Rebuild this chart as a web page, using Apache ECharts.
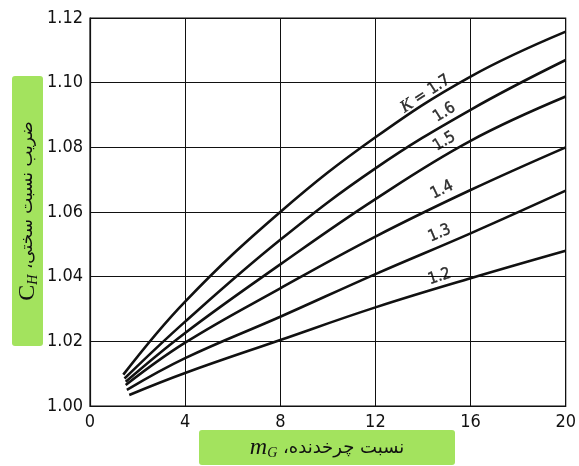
<!DOCTYPE html>
<html><head><meta charset="utf-8">
<script src="https://cdn.jsdelivr.net/npm/echarts@6/dist/echarts.min.js"></script>
<style>html,body{margin:0;padding:0;background:#fff}#c{width:579px;height:466px}</style>
</head><body><div id="c"></div>
<script>
// ---- data ----
const kValues = ['1.7', '1.6', '1.5', '1.4', '1.3', '1.2'];
const curveK17 = [[1.4, 1.0097], [4, 1.0323], [8, 1.0600], [12, 1.0831], [16, 1.1019], [20, 1.1158]];
const curveK16 = [[1.45, 1.0085], [4, 1.0261], [8, 1.0514], [12, 1.0735], [16, 1.0916], [20, 1.1070]];
const curveK15 = [[1.5, 1.0075], [4, 1.0226], [8, 1.0438], [12, 1.0640], [16, 1.0820], [20, 1.0957]];
const curveK14 = [[1.5, 1.0065], [4, 1.0196], [8, 1.0364], [12, 1.0524], [16, 1.0668], [20, 1.0800]];
const curveK13 = [[1.55, 1.0050], [4, 1.0148], [8, 1.0276], [12, 1.0408], [16, 1.0534], [20, 1.0666]];
const curveK12 = [[1.65, 1.0034], [4, 1.0102], [8, 1.0204], [12, 1.0305], [16, 1.0395], [20, 1.0480]];
const xTickLabels = ['0', '4', '8', '12', '16', '20'];
const yTickLabels = ['1.00', '1.02', '1.04', '1.06', '1.08', '1.10', '1.12'];
// curve label anchors (data coords) and angles
const labelX = [14.1, 14.9, 14.9, 14.8, 14.7, 14.7];
const labelY = [1.0965, 1.0908, 1.0818, 1.0668, 1.0534, 1.0400];
const labelAngle = [33, 32, 31, 26, 23, 18];

const curves = [curveK17, curveK16, curveK15, curveK14, curveK13, curveK12];

const tickFont = '"Liberation Sans Narrow","DejaVu Sans Condensed","Liberation Sans",sans-serif';
const chart = echarts.init(document.getElementById('c'));

const lineSeries = curves.map((c, i) => ({
  type: 'line', name: 'K=' + kValues[i], data: c, smooth: 0.4, showSymbol: false,
  lineStyle: { color: '#111', width: 2.6 }, silent: true, z: 3
}));

const labelSeries = {
  type: 'scatter', symbolSize: 0, silent: true, z: 4,
  data: kValues.map((k, i) => ({
    value: [labelX[i], labelY[i]],
    label: {
      show: true, position: 'inside', rotate: labelAngle[i], color: '#000',
      formatter: i === 0 ? '{k|K}{n| = ' + k + '}' : '{n|' + k + '}',
      rich: {
        k: { fontFamily: 'Liberation Serif, serif', fontStyle: 'italic', fontSize: 17, color: '#000', textBorderColor: '#000', textBorderWidth: 0.4 },
        n: { fontFamily: tickFont, fontSize: 16, color: '#000', textBorderColor: '#000', textBorderWidth: 0.4 }
      }
    }
  }))
};

chart.setOption({
  backgroundColor: '#fff',
  animation: false,
  grid: { left: 90, right: 9, top: 18, bottom: 60, show: true, borderColor: '#111', borderWidth: 1.2 },
  xAxis: {
    type: 'value', min: 0, max: 20, interval: 4,
    axisLine: { show: true, lineStyle: { color: '#111', width: 1.2 } },
    axisTick: { show: false },
    splitLine: { show: true, lineStyle: { color: '#111', width: 1 } },
    axisLabel: { color: '#111', fontSize: 18, fontFamily: tickFont, margin: 7,
      formatter: v => xTickLabels[Math.round(v / 4)] }
  },
  yAxis: {
    type: 'value', min: 1.00, max: 1.12, interval: 0.02,
    axisLine: { show: true, lineStyle: { color: '#111', width: 1.2 } },
    axisTick: { show: false },
    splitLine: { show: true, lineStyle: { color: '#111', width: 1 } },
    axisLabel: { color: '#111', fontSize: 18, fontFamily: tickFont, margin: 7,
      formatter: v => yTickLabels[Math.round((v - 1) / 0.02)] }
  },
  graphic: [
    { type: 'rect', shape: { x: 12, y: 76, width: 31, height: 270, r: 3 }, style: { fill: '#a3e35e' }, z: 0 },
    { type: 'text', x: 28, y: 211, rotation: Math.PI / 2, z: 1,
      style: {
        text: '{c|C}{s|H}{f| ،ضریب نسبت سختی}', align: 'center', verticalAlign: 'middle',
        rich: {
          c: { fontFamily: 'Liberation Serif, serif', fontSize: 24, fill: '#111', verticalAlign: 'bottom' },
          s: { fontFamily: 'Liberation Serif, serif', fontStyle: 'italic', fontSize: 14, fill: '#111', verticalAlign: 'bottom' },
          f: { fontFamily: '"DejaVu Sans", sans-serif', fontSize: 17, fill: '#111' }
        }
      } },
    { type: 'rect', shape: { x: 199, y: 430, width: 256, height: 35, r: 3 }, style: { fill: '#a3e35e' }, z: 0 },
    { type: 'text', x: 327, y: 448, z: 1,
      style: {
        text: '{m|m}{s|G}{f| ،نسبت چرخدنده}', align: 'center', verticalAlign: 'middle',
        rich: {
          m: { fontFamily: 'Liberation Serif, serif', fontStyle: 'italic', fontSize: 24, fill: '#111', verticalAlign: 'bottom' },
          s: { fontFamily: 'Liberation Serif, serif', fontStyle: 'italic', fontSize: 14, fill: '#111', verticalAlign: 'bottom' },
          f: { fontFamily: '"DejaVu Sans", sans-serif', fontSize: 18, fill: '#111' }
        }
      } }
  ],
  series: lineSeries.concat([labelSeries])
});
</script></body></html>
